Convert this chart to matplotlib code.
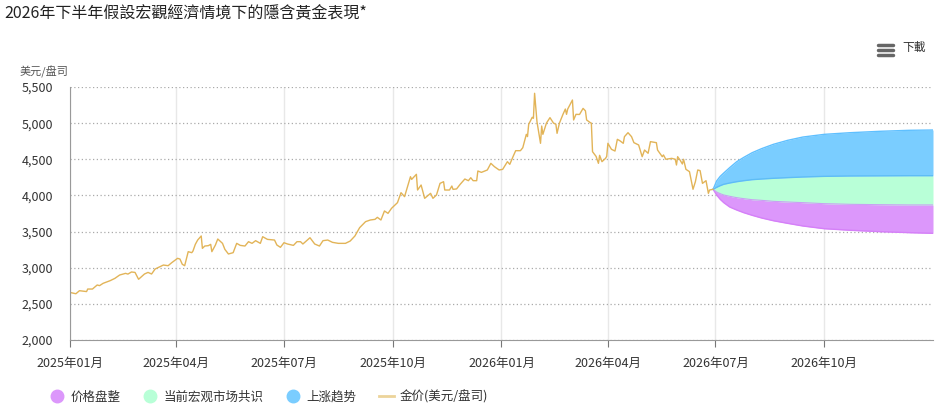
import matplotlib
matplotlib.use("Agg")
import matplotlib.pyplot as plt
from matplotlib.lines import Line2D
from matplotlib.ticker import FuncFormatter
import pandas as pd

plt.rcParams['font.family'] = ['Noto Sans CJK SC', 'DejaVu Sans']

# gold price, days since 2025-01-01
gold_days = [1, 5, 8, 14, 15, 19, 23, 25, 28, 34, 38, 42, 47, 49, 52, 55, 58, 63, 66, 69,
             72, 76, 79, 83, 86, 91, 93, 95, 97, 100, 103, 104, 106, 108, 111, 112, 114, 117, 119, 120,
             123, 125, 129, 131, 134, 138, 141, 144, 148, 151, 154, 157, 161, 163, 167, 173, 175, 178, 181, 184,
             189, 192, 195, 197, 203, 207, 211, 214, 218, 222, 227, 233, 237, 241, 245, 250, 254, 258, 260, 263,
             266, 269, 272, 277, 280, 283, 288, 289, 293, 294, 297, 300, 305, 307, 310, 313, 316, 317, 321, 323,
             324, 327, 330, 334, 337, 339, 341, 344, 345, 348, 351, 353, 356, 359, 363, 366, 370, 372, 375, 377,
             381, 383, 386, 387, 388, 391, 392, 393, 395, 398, 399, 400, 403, 406, 409, 411, 412, 414, 417, 419,
             420, 421, 425, 426, 428, 431, 434, 436, 437, 440, 441, 442, 445, 447, 448, 450, 453, 454, 455, 458,
             461, 463, 465, 468, 469, 472, 475, 477, 481, 484, 486, 489, 491, 496, 497, 501, 502, 504, 509, 512,
             513, 514, 516, 518, 519, 521, 524, 527, 529, 531, 533, 535, 538, 540, 541, 544]
gold_price = [2654, 2640, 2682, 2670, 2705, 2705, 2761, 2752, 2784, 2821, 2853, 2899, 2922, 2912, 2941, 2935, 2840, 2913, 2935, 2913,
              2982, 3014, 3037, 3028, 3069, 3130, 3120, 3047, 3028, 3222, 3208, 3230, 3323, 3383, 3439, 3268, 3300, 3305, 3323, 3222,
              3314, 3397, 3337, 3254, 3190, 3208, 3337, 3309, 3300, 3360, 3337, 3374, 3337, 3429, 3392, 3383, 3314, 3282, 3346, 3328,
              3309, 3360, 3360, 3328, 3415, 3328, 3300, 3374, 3383, 3351, 3337, 3337, 3369, 3439, 3554, 3637, 3660, 3669, 3697, 3660,
              3785, 3752, 3822, 3900, 4038, 3983, 4259, 4222, 4292, 4075, 4144, 3960, 4029, 3960, 4006, 4167, 4190, 4075, 4075, 4130,
              4084, 4090, 4153, 4227, 4204, 4245, 4204, 4204, 4338, 4319, 4338, 4352, 4444, 4398, 4352, 4361, 4467, 4430, 4546, 4619,
              4619, 4660, 4845, 4814, 4984, 5081, 5067, 5413, 5021, 4721, 4960, 4845, 5000, 5076, 5000, 4986, 4859, 5000, 5122, 5195,
              5122, 5195, 5320, 5044, 5122, 5120, 5204, 5170, 5044, 5008, 5000, 4605, 4540, 4444, 4555, 4467, 4513, 4540, 4721, 4638,
              4614, 4776, 4758, 4721, 4813, 4868, 4813, 4730, 4698, 4536, 4628, 4583, 4744, 4730, 4628, 4536, 4560, 4500, 4513, 4500,
              4421, 4536, 4490, 4435, 4500, 4361, 4329, 4085, 4190, 4352, 4343, 4167, 4204, 4029, 4075, 4085]

# scenario bands, days since 2025-01-01
band_days = [544, 547, 550, 553, 558, 564, 570, 577, 585, 595, 607, 620, 638, 660, 685, 710, 730]
range_low = [4085, 4006, 3946, 3900, 3840, 3798, 3761, 3725, 3688, 3650, 3614, 3577, 3540, 3518, 3499, 3485, 3476]
range_high = [4085, 4047, 4024, 4006, 3988, 3969, 3955, 3941, 3932, 3918, 3909, 3900, 3886, 3877, 3872, 3868, 3868]
consensus_high = [4085, 4112, 4135, 4154, 4172, 4190, 4204, 4218, 4227, 4237, 4246, 4255, 4264, 4269, 4271, 4273, 4273]
bull_high = [4085, 4200, 4264, 4310, 4384, 4467, 4527, 4591, 4647, 4707, 4762, 4808, 4845, 4868, 4887, 4901, 4905]

series_names = ['价格盘整', '当前宏观市场共识', '上涨趋势', '金价(美元/盘司)']
tick_months = ['2025-01', '2025-04', '2025-07', '2025-10', '2026-01', '2026-04', '2026-07', '2026-10']

c_purple = '#dc97fb'
c_green = '#b8ffd7'
c_blue = '#7acdff'
c_gold = '#e2b458'

start = pd.Timestamp('2025-01-01')
gold_x = start + pd.to_timedelta(gold_days, unit='D')
band_x = start + pd.to_timedelta(band_days, unit='D')

fig = plt.figure(figsize=(9.43, 4.09), dpi=100)
ax = fig.add_axes([70 / 943, 1 - 340 / 409, 863 / 943, 253 / 409])

ax.fill_between(band_x, range_low, range_high, color=c_purple, lw=0)
ax.fill_between(band_x, range_high, consensus_high, color=c_green, lw=0)
ax.fill_between(band_x, consensus_high, bull_high, color=c_blue, lw=0)
ax.plot(band_x, range_low, color='#d580f8', lw=1)
ax.plot(band_x, range_high, color='#c9a0f2', lw=0.8)
ax.plot(band_x, consensus_high, color='#5ebdf5', lw=1)
ax.plot(band_x, bull_high, color='#5fc0ff', lw=1)
ax.plot(gold_x, gold_price, color=c_gold, lw=1)

ax.set_xlim(start, pd.Timestamp('2027-01-01'))
ax.set_ylim(2000, 5500)
ax.set_yticks(range(2000, 5501, 500))
ax.yaxis.set_major_formatter(FuncFormatter(lambda v, p: f'{int(v):,}'))
ticks = pd.to_datetime(tick_months)
ax.set_xticks(ticks)
ax.set_xticklabels([t.strftime('%Y年%m月') for t in ticks])

ax.grid(axis='y', linestyle=(0, (1, 2)), color='#aaaaaa', lw=0.9)
ax.grid(axis='x', linestyle='-', color='#e8e8e8', lw=1)
ax.set_axisbelow(True)
for s in ['top', 'right']:
    ax.spines[s].set_visible(False)
ax.spines['left'].set_color('#999999')
ax.spines['bottom'].set_color('#999999')
ax.tick_params(axis='y', length=0, labelsize=9, labelcolor='#333333', pad=12)
ax.tick_params(axis='x', length=5, color='#777777', labelsize=9, labelcolor='#333333', pad=7)

fig.text(4 / 943, 1 - 14 / 409, '2026年下半年假設宏觀經濟情境下的隱含黃金表現*', fontsize=11.5,
         family=['Noto Sans CJK TC', 'DejaVu Sans'], va='center', ha='left', color='#222222')
fig.text(20 / 943, 1 - 72 / 409, '美元/盘司', fontsize=8, style='italic', color='#555555',
         va='center', ha='left')

# menu icon + download text
for dy in [45, 50, 55]:
    fig.add_artist(Line2D([878 / 943, 893 / 943], [1 - dy / 409, 1 - dy / 409], color='#666666', lw=2.5,
                          solid_capstyle='round'))
fig.text(902 / 943, 1 - 48 / 409, '下載', fontsize=8.5, color='#333333', va='center', ha='left',
         family=['Noto Sans CJK TC', 'DejaVu Sans'])

handles = [
    Line2D([], [], marker='o', ls='', color=c_purple, markersize=9),
    Line2D([], [], marker='o', ls='', color=c_green, markersize=9),
    Line2D([], [], marker='o', ls='', color=c_blue, markersize=9),
    Line2D([], [], color='#ecd49a', lw=2),
]
fig.legend(handles, series_names, loc='center left', bbox_to_anchor=(38 / 943, 1 - 397 / 409), ncol=4,
           frameon=False, fontsize=9, handlelength=1.2, handletextpad=0.5, columnspacing=1.75,
           labelcolor='#333333')

fig.savefig('out.png', dpi=100)
